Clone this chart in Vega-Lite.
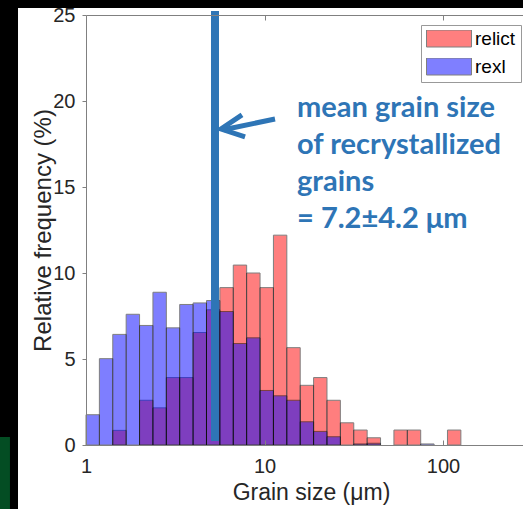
{
  "$schema": "https://vega.github.io/schema/vega-lite/v6.json",
  "width": 437,
  "height": 430,
  "autosize": {"type": "none"},
  "padding": {"left": 86, "top": 15, "right": 0, "bottom": 64},
  "background": "black",
  "config": {
    "view": {"stroke": null},
    "font": "Liberation Sans",
    "axis": {
      "grid": false,
      "labelFont": "Liberation Sans",
      "titleFont": "Liberation Sans",
      "labelColor": "#262626",
      "titleColor": "#262626",
      "titleFontWeight": "normal",
      "domainColor": "#808080",
      "tickColor": "#808080",
      "labelFontSize": 20,
      "titleFontSize": 23
    },
    "legend": {
      "orient": "none",
      "legendX": 335,
      "legendY": 10,
      "symbolType": "M-1,-0.378L1,-0.378L1,0.378L-1,0.378Z",
      "symbolSize": 2025,
      "symbolStrokeColor": "#000",
      "symbolStrokeWidth": 1,
      "labelFont": "Liberation Sans",
      "labelFontSize": 19,
      "labelColor": "#000",
      "labelOffset": 3,
      "clipHeight": 17,
      "rowPadding": 8,
      "padding": 5,
      "strokeColor": "#999",
      "fillColor": "#fff",
      "zindex": 1
    }
  },
  "resolve": {"axis": {"x": "independent", "y": "independent"}},
  "layer": [
    {
      "data": {"values": [{}]},
      "mark": {"type": "rect", "color": "white"},
      "encoding": {
        "x": {"datum": 0.416, "type": "quantitative", "scale": {"type": "log", "domain": [1, 280.6], "nice": false}, "axis": null},
        "x2": {"datum": 307},
        "y": {"datum": 25.41, "type": "quantitative", "scale": {"domain": [0, 25], "nice": false}, "axis": null},
        "y2": {"datum": -4}
      }
    },
    {
      "data": {"values": [{}]},
      "mark": {"type": "rect", "color": "#034d23"},
      "encoding": {
        "x": {"datum": 0.3, "type": "quantitative", "scale": {"type": "log", "domain": [1, 280.6], "nice": false}, "axis": null},
        "x2": {"datum": 0.375},
        "y": {"datum": 0.465, "type": "quantitative", "scale": {"domain": [0, 25], "nice": false}, "axis": null},
        "y2": {"datum": -4}
      }
    },
    {
      "data": {"values": [
        {"type": "relict", "lo": 1.4125, "hi": 1.6788, "pct": 0.85},
        {"type": "relict", "lo": 1.9953, "hi": 2.3714, "pct": 2.6},
        {"type": "relict", "lo": 2.3714, "hi": 2.8184, "pct": 2.16},
        {"type": "relict", "lo": 2.8184, "hi": 3.3497, "pct": 3.92},
        {"type": "relict", "lo": 3.3497, "hi": 3.9811, "pct": 3.92},
        {"type": "relict", "lo": 3.9811, "hi": 4.7315, "pct": 6.54},
        {"type": "relict", "lo": 4.7315, "hi": 5.6234, "pct": 7.86},
        {"type": "relict", "lo": 5.6234, "hi": 6.6834, "pct": 9.15},
        {"type": "relict", "lo": 6.6834, "hi": 7.9433, "pct": 10.46},
        {"type": "relict", "lo": 7.9433, "hi": 9.4406, "pct": 10.0},
        {"type": "relict", "lo": 9.4406, "hi": 11.22, "pct": 9.15},
        {"type": "relict", "lo": 11.22, "hi": 13.335, "pct": 12.2},
        {"type": "relict", "lo": 13.335, "hi": 15.849, "pct": 5.66},
        {"type": "relict", "lo": 15.849, "hi": 18.836, "pct": 3.47},
        {"type": "relict", "lo": 18.836, "hi": 22.387, "pct": 3.92},
        {"type": "relict", "lo": 22.387, "hi": 26.607, "pct": 2.6},
        {"type": "relict", "lo": 26.607, "hi": 31.623, "pct": 1.29},
        {"type": "relict", "lo": 31.623, "hi": 37.584, "pct": 0.87},
        {"type": "relict", "lo": 37.584, "hi": 44.668, "pct": 0.42},
        {"type": "relict", "lo": 53.088, "hi": 63.096, "pct": 0.87},
        {"type": "relict", "lo": 63.096, "hi": 74.989, "pct": 0.87},
        {"type": "relict", "lo": 105.93, "hi": 125.89, "pct": 0.87},
        {"type": "rexl", "lo": 1.0, "hi": 1.1885, "pct": 1.76},
        {"type": "rexl", "lo": 1.1885, "hi": 1.4125, "pct": 5.02},
        {"type": "rexl", "lo": 1.4125, "hi": 1.6788, "pct": 6.43},
        {"type": "rexl", "lo": 1.6788, "hi": 1.9953, "pct": 7.6},
        {"type": "rexl", "lo": 1.9953, "hi": 2.3714, "pct": 6.95},
        {"type": "rexl", "lo": 2.3714, "hi": 2.8184, "pct": 8.88},
        {"type": "rexl", "lo": 2.8184, "hi": 3.3497, "pct": 6.81},
        {"type": "rexl", "lo": 3.3497, "hi": 3.9811, "pct": 8.17},
        {"type": "rexl", "lo": 3.9811, "hi": 4.7315, "pct": 8.26},
        {"type": "rexl", "lo": 4.7315, "hi": 5.6234, "pct": 8.4},
        {"type": "rexl", "lo": 5.6234, "hi": 6.6834, "pct": 7.76},
        {"type": "rexl", "lo": 6.6834, "hi": 7.9433, "pct": 5.9},
        {"type": "rexl", "lo": 7.9433, "hi": 9.4406, "pct": 6.23},
        {"type": "rexl", "lo": 9.4406, "hi": 11.22, "pct": 3.17},
        {"type": "rexl", "lo": 11.22, "hi": 13.335, "pct": 2.86},
        {"type": "rexl", "lo": 13.335, "hi": 15.849, "pct": 2.6},
        {"type": "rexl", "lo": 15.849, "hi": 18.836, "pct": 1.35},
        {"type": "rexl", "lo": 18.836, "hi": 22.387, "pct": 0.79},
        {"type": "rexl", "lo": 22.387, "hi": 26.607, "pct": 0.48},
        {"type": "rexl", "lo": 31.623, "hi": 37.584, "pct": 0.06},
        {"type": "rexl", "lo": 37.584, "hi": 44.668, "pct": 0.1},
        {"type": "rexl", "lo": 74.989, "hi": 89.125, "pct": 0.06}
      ]},
      "mark": {"type": "rect", "opacity": 0.5, "stroke": "#000", "strokeWidth": 1},
      "encoding": {
        "x": {
          "field": "lo", "type": "quantitative",
          "scale": {"type": "log", "domain": [1, 280.6], "nice": false},
          "axis": {
            "zindex": 1,
            "orient": "bottom", "values": [1, 10, 100], "format": "d",
            "tickSize": -5, "labelPadding": 16, "labelFlush": false,
            "title": "Grain size (μm)", "titleX": 225, "titleY": 54,
            "titleBaseline": "alphabetic", "titleAlign": "center"
          }
        },
        "x2": {"field": "hi"},
        "y": {
          "field": "pct", "type": "quantitative",
          "scale": {"domain": [0, 25], "nice": false},
          "axis": {
            "zindex": 1, "orient": "left",
            "values": [0, 5, 10, 15, 20, 25], "tickSize": 4, "labelPadding": 7,
            "title": "Relative frequency (%)", "titleFontSize": 24, "titleX": -36, "titleBaseline": "alphabetic"
          }
        },
        "y2": {"datum": 0},
        "color": {
          "field": "type", "type": "nominal",
          "scale": {"domain": ["relict", "rexl"], "range": ["#ff0000", "#0000ff"]},
          "legend": {"title": null}
        }
      }
    },
    {
      "data": {"values": [{"mean": 5.28}]},
      "mark": {"type": "rule", "strokeWidth": 8, "color": "#2e75b6"},
      "encoding": {
        "x": {
          "field": "mean", "type": "quantitative",
          "scale": {"type": "log", "domain": [1, 280.6], "nice": false},
          "axis": {"zindex": 1, "orient": "top", "values": [10, 100], "labels": false, "title": null, "tickSize": -5}
        },
        "y": {"datum": 25.23, "type": "quantitative", "scale": {"domain": [0, 25], "nice": false}, "axis": null},
        "y2": {"datum": 0.23}
      }
    },
    {
      "data": {"values": [
        {"part": "shaft", "ord": 1, "gx": 11.45, "fy": 18.95},
        {"part": "shaft", "ord": 2, "gx": 5.9, "fy": 18.33},
        {"part": "head", "ord": 1, "gx": 7.48, "fy": 19.19},
        {"part": "head", "ord": 2, "gx": 5.705, "fy": 18.37},
        {"part": "head", "ord": 3, "gx": 7.78, "fy": 17.91}
      ]},
      "mark": {"type": "line", "strokeWidth": 5, "color": "#2e75b6", "strokeJoin": "miter", "strokeCap": "butt"},
      "encoding": {
        "x": {"field": "gx", "type": "quantitative", "scale": {"type": "log", "domain": [1, 280.6], "nice": false}, "axis": null},
        "y": {"field": "fy", "type": "quantitative", "scale": {"domain": [0, 25], "nice": false}, "axis": null},
        "detail": {"field": "part"},
        "order": {"field": "ord"}
      }
    },
    {
      "data": {"values": [
        {"t": "mean grain size", "tx": 15.21, "ty": 19.07},
        {"t": "of recrystallized", "tx": 15.21, "ty": 16.92},
        {"t": "grains", "tx": 15.21, "ty": 14.77},
        {"t": "= 7.2±4.2 μm", "tx": 15.21, "ty": 12.62}
      ]},
      "mark": {"type": "text", "align": "left", "baseline": "alphabetic", "font": "Lato", "fontWeight": "bold", "fontSize": 29, "color": "#2e75b6"},
      "encoding": {
        "x": {"field": "tx", "type": "quantitative", "scale": {"type": "log", "domain": [1, 280.6], "nice": false}, "axis": null},
        "y": {"field": "ty", "type": "quantitative", "scale": {"domain": [0, 25], "nice": false}, "axis": null},
        "text": {"field": "t"}
      }
    }
  ]
}
